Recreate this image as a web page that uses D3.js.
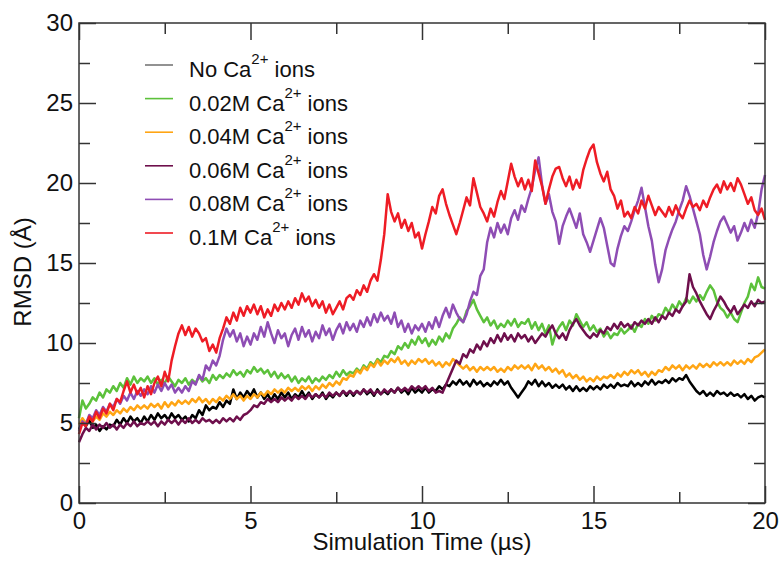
<!DOCTYPE html>
<html>
<head>
<meta charset="utf-8">
<script src="https://cdn.jsdelivr.net/npm/d3@7"></script>
<style>
  body { margin: 0; background: #fff; }
  svg { display: block; }
  text { font-family: "Liberation Sans", Arial, Helvetica, sans-serif; fill: #111; }
</style>
</head>
<body>
<div id="chart"></div>
<script>
// RMSD traces, one sample every 0.1 µs (0 .. 20 µs)
var timeStep = 0.1;

var noCa = [
  4.6, 5.1, 4.8, 5.2, 4.7, 4.9, 4.5, 4.8, 4.6, 4.9,
  4.8, 5.2, 4.9, 5.3, 5.0, 5.4, 5.1, 5.3, 5.0, 5.4,
  5.1, 5.5, 5.2, 5.6, 5.3, 5.5, 5.2, 5.6, 5.3, 5.5,
  5.2, 5.4, 5.1, 5.5, 5.3, 5.8, 5.5, 6.1, 5.8, 6.0,
  5.9, 6.3, 6.0, 6.4, 6.2, 7.1, 6.5, 6.9, 6.6, 7.0,
  6.7, 7.1, 6.6, 6.9, 6.5, 6.8, 6.4, 6.8, 6.5, 6.9,
  6.6, 6.9, 6.5, 6.8, 6.6, 7.0, 6.6, 6.9, 6.5, 6.8,
  6.6, 6.9, 6.5, 6.8, 6.6, 6.9, 6.7, 7.0, 6.7, 7.0,
  6.7, 7.0, 6.8, 7.1, 6.8, 7.0, 6.7, 7.1, 6.8, 7.0,
  6.8, 7.1, 6.9, 7.2, 6.9, 7.1, 6.8, 7.2, 6.9, 7.1,
  6.9, 7.2, 6.9, 7.1, 7.0, 7.3, 7.1, 7.4, 7.3, 7.6,
  7.4, 7.7, 7.4, 7.6, 7.3, 7.7, 7.4, 7.6, 7.3, 7.5,
  7.3, 7.6, 7.4, 7.7, 7.4, 7.6, 7.2, 6.9, 6.6, 6.9,
  7.2, 7.6, 7.4, 7.7, 7.3, 7.6, 7.3, 7.5, 7.2, 7.4,
  7.2, 7.4, 7.1, 7.3, 7.0, 7.3, 7.0, 7.2, 7.0, 7.3,
  7.1, 7.3, 7.1, 7.4, 7.2, 7.4, 7.2, 7.5, 7.3, 7.4,
  7.3, 7.6, 7.3, 7.5, 7.3, 7.6, 7.4, 7.7, 7.4, 7.6,
  7.5, 7.7, 7.5, 7.8, 7.6, 7.8, 7.7, 8.0, 7.6, 7.3,
  7.0, 6.8, 7.0, 6.7, 6.9, 6.7, 7.0, 6.8, 6.9, 6.7,
  6.9, 6.7, 6.8, 6.6, 6.8, 6.5, 6.7, 6.4, 6.6, 6.7,
  6.6
];

var ca002 = [
  5.3, 6.4, 5.9, 6.2, 6.6, 6.4, 6.9, 6.6, 7.1, 6.9,
  7.3, 7.0, 7.5, 7.2, 7.8, 7.4, 7.9, 7.5, 7.8, 7.6,
  7.9, 7.5, 7.8, 7.4, 7.7, 7.5, 7.9, 7.6, 7.3, 7.7,
  7.5, 7.8, 7.4, 7.7, 7.5, 7.9, 7.6, 7.8, 7.5, 8.0,
  7.7, 8.0, 7.8, 8.1, 7.9, 8.3, 8.0, 8.2, 7.9, 8.3,
  8.1, 8.5, 8.2, 8.4, 8.1, 8.3, 7.9, 8.2, 7.8, 8.1,
  7.8, 8.0, 7.6, 7.9, 7.5, 7.8, 7.6, 7.9, 7.5, 7.8,
  7.6, 7.9, 7.7, 8.0, 7.8, 8.2, 7.9, 8.3, 8.0, 8.2,
  8.1, 8.4, 8.2, 8.6, 8.4, 8.8, 8.6, 9.0, 8.8, 9.2,
  9.1, 9.5, 9.3, 9.8, 9.6, 10.0, 9.7, 10.2, 9.9, 10.4,
  10.0, 10.3, 9.8, 10.2, 9.9, 10.4, 10.1, 10.6, 10.3, 10.9,
  11.2, 11.6, 11.3, 12.0, 12.3, 12.7, 12.1, 11.7, 11.3, 11.6,
  11.1, 11.4, 10.9, 11.2, 11.0, 11.4, 11.1, 11.5, 11.0, 11.3,
  11.2, 11.5, 10.9, 11.3, 10.8, 11.2, 10.6, 11.1, 9.9, 10.6,
  11.0, 11.3, 10.8, 11.4, 11.1, 11.8, 11.4, 11.0, 11.3, 10.8,
  11.1, 10.7, 10.9, 10.4, 10.7, 10.3, 10.6, 10.5, 10.9, 10.6,
  10.8, 11.1, 10.7, 11.2, 11.0, 11.5, 11.2, 11.7, 11.4, 11.8,
  11.7, 12.2, 11.9, 12.4, 12.1, 12.6, 12.3, 12.8, 12.5, 12.9,
  12.6, 13.0, 12.7, 13.2, 13.6, 13.3, 12.6, 12.2, 12.0, 11.6,
  11.9, 11.5, 11.3, 11.9, 12.5, 12.9, 13.7, 13.3, 14.1, 13.5,
  13.4
];

var ca004 = [
  4.9, 5.3, 5.0, 5.4, 5.1, 5.4, 5.2, 5.6, 5.4, 5.7,
  5.5, 5.8, 5.6, 5.9, 5.7, 6.0, 5.8, 6.1, 5.9, 6.1,
  5.9, 6.2, 6.0, 6.2, 5.9, 6.3, 6.0, 6.3, 6.1, 6.4,
  6.2, 6.4, 6.2, 6.5, 6.3, 6.6, 6.3, 6.5, 6.2, 6.5,
  6.3, 6.6, 6.4, 6.7, 6.5, 6.8, 6.5, 6.7, 6.4, 6.7,
  6.5, 6.8, 6.6, 6.9, 6.7, 7.0, 6.8, 7.1, 6.9, 7.1,
  6.9, 7.2, 7.0, 7.2, 7.0, 7.3, 7.1, 7.3, 7.0, 7.3,
  7.1, 7.4, 7.2, 7.5, 7.3, 7.6, 7.4, 7.8, 7.7, 8.0,
  7.9, 8.3, 8.1, 8.5, 8.3, 8.7, 8.5, 8.9, 8.6, 8.9,
  8.7, 9.0, 8.8, 9.1, 8.7, 8.9, 8.6, 8.9, 8.7, 9.0,
  8.8, 9.0, 8.7, 8.9, 8.6, 8.8, 8.5, 8.8, 8.6, 9.0,
  8.8, 8.6, 8.4, 8.6, 8.3, 8.5, 8.2, 8.5, 8.3, 8.5,
  8.3, 8.5, 8.2, 8.4, 8.2, 8.5, 8.3, 8.6, 8.4, 8.6,
  8.4, 8.6, 8.3, 8.7, 8.4, 8.6, 8.3, 8.5, 8.2, 8.4,
  8.1, 8.3, 7.9, 8.1, 7.8, 8.0, 7.7, 7.9, 7.6, 7.8,
  7.6, 7.9, 7.7, 7.9, 7.8, 8.0, 7.8, 8.1, 7.9, 8.2,
  8.0, 8.3, 8.1, 8.3, 8.0, 8.2, 7.9, 8.2, 8.0, 8.3,
  8.2, 8.5, 8.3, 8.6, 8.4, 8.6, 8.3, 8.6, 8.4, 8.6,
  8.4, 8.7, 8.5, 8.7, 8.5, 8.8, 8.6, 8.8, 8.6, 8.8,
  8.6, 8.9, 8.7, 8.9, 8.7, 9.0, 8.8, 9.1, 9.2, 9.4,
  9.6
];

var ca006 = [
  3.8, 4.3, 4.7, 4.5, 4.9, 4.6, 4.9, 4.7, 5.0, 4.7,
  4.9, 4.6, 4.9, 4.7, 5.0, 4.8, 5.1, 4.8, 5.0, 4.9,
  5.1, 4.9, 5.1, 4.8, 5.1, 4.9, 5.2, 5.0, 5.2, 4.9,
  5.2, 5.0, 5.3, 5.0, 5.2, 5.0, 5.3, 5.1, 5.2, 5.0,
  5.2, 5.0, 5.3, 5.1, 5.3, 5.1, 5.4, 5.2, 5.5, 5.6,
  5.8, 6.1, 6.0, 6.3, 6.2, 6.5, 6.3, 6.5, 6.3, 6.6,
  6.4, 6.6, 6.4, 6.7, 6.5, 6.7, 6.5, 6.8, 6.6, 6.8,
  6.6, 6.8, 6.6, 6.9, 6.7, 6.9, 6.7, 7.0, 6.8, 7.0,
  6.8, 7.0, 6.8, 7.1, 6.9, 7.1, 6.8, 7.0, 6.8, 7.1,
  6.9, 7.1, 6.9, 7.2, 7.0, 7.2, 7.0, 7.3, 7.1, 7.3,
  7.1, 7.3, 7.0, 7.2, 6.9, 7.0, 6.9, 7.4, 7.9, 8.4,
  8.9, 8.7, 9.3, 9.1, 9.6, 9.4, 9.9, 9.6, 10.1, 9.8,
  10.3, 10.0, 10.5, 10.1, 10.6, 10.2, 10.5, 10.1, 10.6, 10.3,
  10.5, 10.1, 10.4, 10.0, 10.3, 10.6, 10.4, 10.8, 11.1, 10.6,
  10.3, 10.6, 10.2, 10.8, 11.2, 11.5, 11.1, 10.8, 10.5, 10.3,
  10.6, 10.4, 10.8, 10.6, 11.0, 10.8, 11.2, 10.9, 11.3, 11.0,
  11.2, 10.9, 11.3, 11.1, 11.4, 11.2, 11.5, 11.2, 11.6, 11.3,
  11.7, 11.5, 11.9, 11.7, 12.1, 11.9, 12.3, 12.6, 14.3, 13.5,
  13.1, 12.6, 12.2, 11.8, 11.5, 12.0, 12.4, 12.9, 12.6, 12.2,
  11.9, 12.3, 11.8, 12.1, 12.4, 12.2, 12.6, 12.3, 12.7, 12.5,
  12.6
];

var ca008 = [
  4.5, 5.1, 4.9, 5.5, 5.3, 5.8, 5.5, 6.0, 5.7, 6.2,
  6.0, 6.5, 6.2, 6.7, 6.4, 6.9, 6.5, 7.0, 6.7, 7.1,
  6.8, 7.3, 6.9, 7.4, 7.0, 7.5, 7.1, 7.4, 6.9, 7.2,
  6.9, 7.3, 7.0, 7.6, 7.4, 8.0, 7.7, 8.6, 8.3, 8.9,
  8.6, 9.2, 10.2, 10.9, 10.4, 10.8, 10.1, 10.6, 9.8, 10.4,
  9.9, 10.6, 10.2, 11.0, 10.4, 11.3, 10.6, 10.0, 10.8, 10.3,
  10.6, 9.8, 10.5, 10.9, 10.2, 11.0, 10.4, 10.8, 10.1, 10.7,
  10.3, 11.1, 10.5, 10.9, 10.2, 10.8, 11.2, 10.6, 11.3, 10.8,
  11.2, 10.7, 11.4, 11.0, 11.6, 11.1, 11.8, 11.3, 11.9, 11.4,
  11.7, 11.2, 11.9, 11.0, 11.4, 10.7, 11.2, 10.6, 11.1, 10.8,
  11.2, 10.7, 11.3, 10.9, 11.6, 11.0, 11.7, 12.2, 11.6, 12.4,
  11.9, 11.5, 11.3, 11.8, 12.6, 13.2, 13.0, 14.2, 14.6, 16.3,
  17.2, 16.6, 17.5, 16.9, 17.4, 16.8, 17.8, 18.3, 17.7, 18.6,
  18.2, 19.0, 19.7, 20.8, 21.6, 19.9, 18.7, 19.3, 18.2, 17.6,
  16.2, 17.3, 17.9, 18.4, 17.8, 17.2, 18.1, 16.8, 16.3, 15.7,
  16.4, 17.1, 17.8, 17.2, 16.1, 15.0, 14.8, 15.9, 16.7, 17.3,
  17.0, 17.6, 18.3, 18.9, 19.7, 18.5, 17.3, 16.4, 14.9, 13.8,
  14.6, 15.8, 16.5, 17.1, 17.6, 18.3, 18.9, 19.8, 19.2, 18.4,
  17.6, 16.8, 15.5, 14.6, 15.4, 16.3, 17.0, 17.6, 17.9, 17.4,
  16.9, 17.3, 16.4, 16.9, 17.5, 17.0, 17.7, 17.2, 18.1, 19.6,
  20.5
];

var ca01 = [
  4.3, 5.0, 4.8, 5.4, 5.1, 5.7, 5.3, 5.9, 5.6, 6.2,
  5.8, 6.5, 6.3, 7.0, 7.6, 6.9, 7.4, 6.8, 7.2, 6.6,
  7.3, 6.8, 7.5, 7.9, 7.3, 8.2, 7.6, 8.9, 9.8, 10.6,
  11.1, 10.5, 11.0, 10.4, 10.9, 10.6, 10.1, 10.3, 9.5, 9.9,
  9.4, 10.3, 10.9, 11.6, 11.2, 11.9, 11.4, 12.2, 11.7, 12.3,
  11.9, 12.4, 11.8, 12.3, 11.6, 12.1, 11.7, 12.4, 12.0, 12.5,
  12.1, 12.6, 12.2, 12.8, 12.4, 13.1, 12.6, 12.9, 12.3, 12.7,
  12.2, 12.6, 11.9, 12.4, 11.8, 12.2, 12.6, 12.1, 12.8, 13.0,
  12.7, 13.3, 13.0, 13.6, 13.2, 13.9, 14.3, 13.9, 15.2, 16.8,
  19.3, 18.2, 17.6, 18.1, 17.2, 17.7, 17.0, 17.5, 16.6, 16.9,
  15.9, 16.8, 17.6, 18.5, 18.1, 19.2, 19.6, 18.7, 18.0, 17.4,
  16.8, 17.5, 18.3, 19.1, 18.6, 20.3, 19.4, 18.5, 18.1, 17.6,
  18.4, 17.9, 18.8, 19.5, 19.0, 20.1, 21.2, 20.4, 19.8, 20.3,
  19.6, 20.2, 19.5, 21.4, 20.6, 19.8, 18.7, 19.6, 20.4, 20.9,
  21.0, 20.3, 19.8, 20.4, 19.6, 20.2, 19.7, 20.8, 21.5, 22.1,
  22.4, 21.3, 20.6, 20.1, 20.7, 19.6, 19.2, 18.4, 18.9, 17.9,
  18.2, 17.8, 18.5, 18.1, 18.9, 18.4, 19.2, 18.6, 18.0, 18.5,
  18.2, 17.9, 18.5, 18.0, 18.6, 18.1, 17.8, 18.4, 18.9, 18.5,
  18.7, 18.3, 18.9, 18.5, 19.1, 19.6, 19.9, 19.4, 20.1, 19.6,
  20.0, 19.5, 20.3, 19.9, 19.3, 18.7, 19.1, 18.3, 18.0, 18.4,
  17.7
];

var seriesConc = ["No", "0.02M", "0.04M", "0.06M", "0.08M", "0.1M"];
var seriesValues = [noCa, ca002, ca004, ca006, ca008, ca01];
var seriesColors = ["#000000", "#5cc13b", "#ffa514", "#6e0f4c", "#8e4db4", "#ee1c25"];
var legendSwatch = ["#777777", "#5cc13b", "#ffa514", "#6e0f4c", "#8e4db4", "#ee1c25"];

var xMajor = [0, 5, 10, 15, 20];
var xMinor = [2.5, 7.5, 12.5, 17.5];
var yMajor = [0, 5, 10, 15, 20, 25, 30];
var yMinor = [2.5, 7.5, 12.5, 17.5, 22.5, 27.5];

var W = 783, H = 561;
var pL = 79, pR = 765, pT = 23, pB = 503;

var svg = d3.select("#chart").append("svg")
	.attr("width", W)
	.attr("height", H);

var x = d3.scaleLinear().domain([0, 20]).range([pL, pR]);
var y = d3.scaleLinear().domain([0, 30]).range([pB, pT]);

// traces
var plot = svg.append("g");
var line = d3.line()
	.x(function(d, i){ return x(i * timeStep); })
	.y(function(d){ return y(d); });

seriesValues.forEach(function(vals, k){
	plot.append("path")
		.datum(vals)
		.attr("d", line)
		.attr("fill", "none")
		.attr("stroke", seriesColors[k])
		.attr("stroke-width", 2.5)
		.attr("stroke-linejoin", "round");
});

// axes, ticks pointing inward on all four sides
function styleAxis(g){
	g.select(".domain").remove();
	g.selectAll(".tick line").attr("stroke", "#333").attr("stroke-width", 1.5);
	g.selectAll("text").attr("font-size", 24).attr("fill", "#111")
		.attr("font-family", "Liberation Sans, Arial, sans-serif");
}

svg.append("g").attr("transform", "translate(0," + pB + ")")
	.call(d3.axisBottom(x).tickValues(xMajor).tickSize(-17).tickPadding(9).tickFormat(d3.format("d")))
	.call(styleAxis);
svg.append("g").attr("transform", "translate(0," + pB + ")")
	.call(d3.axisBottom(x).tickValues(xMinor).tickSize(-11).tickFormat(""))
	.call(styleAxis);
svg.append("g").attr("transform", "translate(0," + pT + ")")
	.call(d3.axisTop(x).tickValues(xMajor).tickSize(-17).tickFormat(""))
	.call(styleAxis);
svg.append("g").attr("transform", "translate(0," + pT + ")")
	.call(d3.axisTop(x).tickValues(xMinor).tickSize(-11).tickFormat(""))
	.call(styleAxis);

svg.append("g").attr("transform", "translate(" + pL + ",0)")
	.call(d3.axisLeft(y).tickValues(yMajor).tickSize(-17).tickPadding(6).tickFormat(d3.format("d")))
	.call(styleAxis);
svg.append("g").attr("transform", "translate(" + pL + ",0)")
	.call(d3.axisLeft(y).tickValues(yMinor).tickSize(-11).tickFormat(""))
	.call(styleAxis);
svg.append("g").attr("transform", "translate(" + pR + ",0)")
	.call(d3.axisRight(y).tickValues(yMajor).tickSize(-17).tickFormat(""))
	.call(styleAxis);
svg.append("g").attr("transform", "translate(" + pR + ",0)")
	.call(d3.axisRight(y).tickValues(yMinor).tickSize(-11).tickFormat(""))
	.call(styleAxis);

svg.append("rect")
	.attr("x", pL).attr("y", pT)
	.attr("width", pR - pL).attr("height", pB - pT)
	.attr("fill", "none")
	.attr("stroke", "#333")
	.attr("stroke-width", 1.5);

// axis titles
svg.append("text")
	.attr("x", (pL + pR) / 2)
	.attr("y", 550)
	.attr("text-anchor", "middle")
	.attr("font-size", 24)
	.text("Simulation Time (\u00b5s)");

svg.append("text")
	.attr("transform", "translate(31," + ((pT + pB) / 2 + 9) + ") rotate(-90)")
	.attr("text-anchor", "middle")
	.attr("font-size", 24)
	.text("RMSD (\u00c5)");

// legend
var legend = svg.append("g");
var rowY = d3.scaleLinear().domain([0, 5]).range([65, 233]);

seriesConc.forEach(function(c, k){
	var yy = rowY(k);
	legend.append("line")
		.attr("x1", 145).attr("x2", 173)
		.attr("y1", yy).attr("y2", yy)
		.attr("stroke", legendSwatch[k])
		.attr("stroke-width", 1.6);
	var t = legend.append("text")
		.attr("x", 189)
		.attr("y", yy + 12)
		.attr("font-size", 22);
	t.append("tspan").text(c + " Ca");
	t.append("tspan").attr("font-size", 15).attr("dy", -13).text("2+");
	t.append("tspan").attr("dy", 13).text(" ions");
});
</script>
</body>
</html>
